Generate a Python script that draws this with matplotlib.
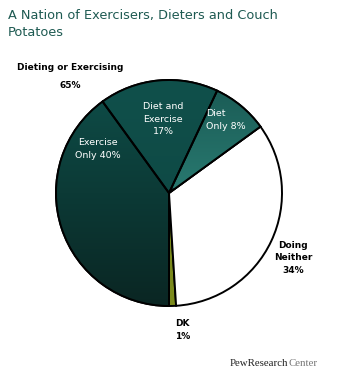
import matplotlib
matplotlib.use("Agg")
import matplotlib.pyplot as plt
import matplotlib.patches as mpatches
import numpy as np
from matplotlib.colors import LinearSegmentedColormap

# ---- data ----
categories = ["DK", "Doing Neither", "Diet Only", "Diet and Exercise", "Exercise Only"]
values = [1, 34, 8, 17, 40]
title = "A Nation of Exercisers, Dieters and Couch\nPotatoes"

W, H = 338, 381
fig = plt.figure(figsize=(W / 100, H / 100), dpi=100)

# pie axes in pixel coordinates (y up)
pax = fig.add_axes([0, 0, 1, 1])
cx, cy, r = 169, H - 193, 113
base_colors = ["#7b8a1c", "#ffffff", "#1c635b", "#0f4c47", "#0d4541"]
wedges, _ = pax.pie(values, colors=base_colors, startangle=-90, counterclock=True,
                    center=(cx, cy), radius=r, frame=True,
                    wedgeprops=dict(edgecolor="black", linewidth=1.4))
pax.set_aspect("auto")

grads = {
    2: ("#1a5a54", "#28786f"),
    3: ("#10504b", "#0d4440"),
    4: ("#0e4e49", "#0a2623"),
}
for i, (ctop, cbot) in grads.items():
    cmap = LinearSegmentedColormap.from_list("g%d" % i, [ctop, cbot])
    if i == 2:
        ext = (cx - r, cx + r, cy + 5, cy + r)
    else:
        ext = (cx - r, cx + r, cy - r, cy + r)
    im = pax.imshow(np.linspace(0, 1, 100).reshape(-1, 1), cmap=cmap,
                    extent=ext, origin="upper", aspect="auto", zorder=1.5)
    im.set_clip_path(wedges[i])
    pax.add_patch(mpatches.Wedge((cx, cy), r, wedges[i].theta1, wedges[i].theta2,
                                 facecolor="none", edgecolor="black", linewidth=1.4, zorder=2))
pax.set_xlim(0, W)
pax.set_ylim(0, H)
pax.axis("off")

# text axes on top (y down, pixels)
ax = fig.add_axes([0, 0, 1, 1])
ax.set_xlim(0, W)
ax.set_ylim(H, 0)
ax.axis("off")
ax.patch.set_alpha(0)

tcol = "#1e5a52"
ax.text(8, 9, title, color=tcol, fontsize=9.3, va="top", ha="left",
        linespacing=1.35, family="DejaVu Sans")

bold = dict(fontsize=6.5, fontweight="bold", color="black", family="DejaVu Sans")
ax.text(70, 68, "Dieting or Exercising", ha="center", va="center", **bold)
ax.text(70, 85, "65%", ha="center", va="center", **bold)

white = dict(fontsize=6.8, color="white", family="DejaVu Sans", linespacing=1.45)
ax.text(163, 119, "Diet and\nExercise\n17%", ha="center", va="center", **white)
ax.text(98, 149, "Exercise\nOnly 40%", ha="center", va="center", **white)
ax.text(206, 120, "Diet\nOnly 8%", ha="left", va="center", **white)

ax.text(293, 258, "Doing\nNeither\n34%", ha="center", va="center", linespacing=1.45, **bold)
ax.text(175, 330, "DK\n1%", ha="left", va="center", linespacing=1.45, **bold)

t1 = ax.text(230, 363, "PewResearch", ha="left", va="center", fontsize=7.8,
             family="Liberation Serif", color="#222222")
fig.canvas.draw()
bb = t1.get_window_extent()
x_end = bb.x1
ax.text(x_end, 363, "Center", ha="left", va="center", fontsize=7.8,
        family="Liberation Serif", color="#777777")

fig.savefig("out.png", dpi=100)
